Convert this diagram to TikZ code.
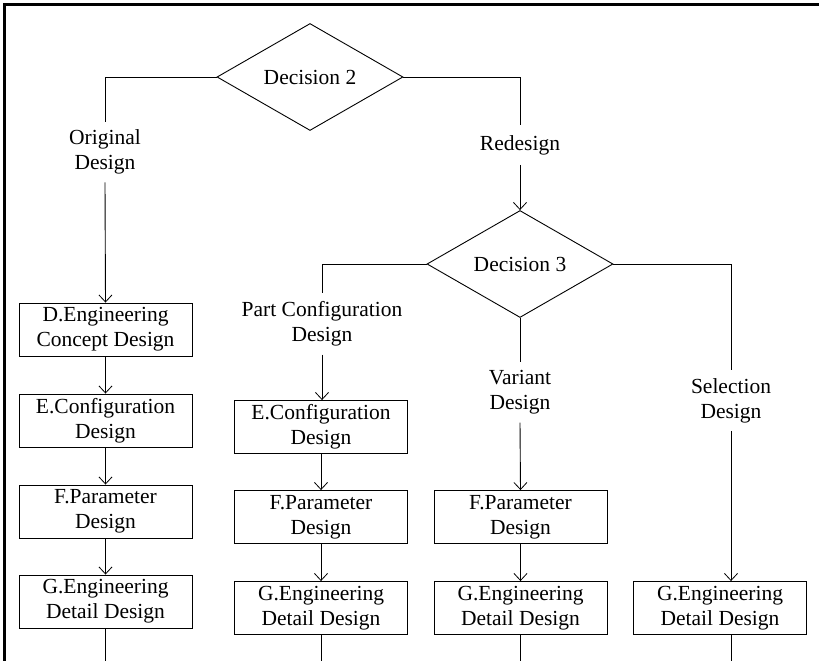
\documentclass[tikz,border=0pt]{standalone}
\usepackage{fontspec}
\setmainfont{Liberation Serif}
\usetikzlibrary{shapes.geometric,arrows.meta}
\begin{document}
\begin{tikzpicture}[x=1pt,y=-1pt,
  txt/.style={font=\fontsize{21.5}{25}\selectfont, align=center},
  stepbox/.style={txt, draw, line width=0.9pt, minimum width=173pt, minimum height=53pt, inner sep=2pt},
  decide/.style={txt, draw, shape=diamond, line width=0.9pt, minimum width=186pt, minimum height=91pt, inner sep=0pt},
  lbl/.style={txt, inner xsep=2pt, inner ysep=8pt},
  link/.style={line width=0.9pt},
  arr/.style={link, -{Straight Barb[length=7pt,width=13pt,line width=0.8pt]}}
]
\useasboundingbox (0,0) rectangle (819,661);
% outer frame (top and left edges)
\draw[line width=3pt] (4.5,661) -- (4.5,4.5) -- (819,4.5);

% decisions
\node[decide] (d2) at (310,77) {Decision 2};
\node[decide] (d3) at (520,264) {Decision 3};

% branch labels
\node[lbl] (lorig) at (105,152) {Original\\Design};
\node[lbl, inner ysep=10pt] (lred) at (520,145) {Redesign};
\node[lbl] (lpart) at (322,324) {Part Configuration\\Design};
\node[lbl] (lvar) at (520,392.5) {Variant\\Design};
\node[lbl] (lsel) at (731,400.5) {Selection\\Design};

% original design column
\node[stepbox] (d1) at (105.5,329.5) {D.Engineering\\Concept Design};
\node[stepbox] (e1) at (105.5,420.5) {E.Configuration\\Design};
\node[stepbox] (f1) at (105.5,511.5) {F.Parameter\\Design};
\node[stepbox] (g1) at (105.5,601.5) {G.Engineering\\Detail Design};

% part configuration column
\node[stepbox] (e2) at (321,427) {E.Configuration\\Design};
\node[stepbox] (f2) at (321,517) {F.Parameter\\Design};
\node[stepbox] (g2) at (321,608) {G.Engineering\\Detail Design};

% variant column
\node[stepbox] (f3) at (520.5,517) {F.Parameter\\Design};
\node[stepbox] (g3) at (520.5,608) {G.Engineering\\Detail Design};

% selection column
\node[stepbox] (g4) at (720,608) {G.Engineering\\Detail Design};

% open ends leaving the bottom edge
\coordinate (o1) at (105.5,661);
\coordinate (o2) at (321,661);
\coordinate (o3) at (520.5,661);
\coordinate (o4) at (731,661);

% decision 2 branches
\draw[link] (d2.west) -| (lorig.north);
\draw[arr] (lorig.south) -- (d1.north);
\draw[link] (d2.east) -| (lred.north);
\draw[arr] (lred.south) -- (d3.north);

% decision 3 branches
\draw[link] (d3.west) -| (lpart.north);
\draw[arr] (lpart.south) -- (lpart.south |- e2.north);
\draw[link] (d3.south) -- (lvar.north);
\draw[arr] (lvar.south) -- (f3.north);
\draw[link] (d3.east) -| (lsel.north);
\draw[arr] (lsel.south) -- (lsel.south |- g4.north);

% chains inside the columns
\draw[arr] (d1) -- (e1);
\draw[arr] (e1) -- (f1);
\draw[arr] (f1) -- (g1);
\draw[arr] (e2) -- (f2);
\draw[arr] (f2) -- (g2);
\draw[arr] (f3) -- (g3);

% continuing lines
\draw[link] (g1.south) -- (o1);
\draw[link] (g2.south) -- (o2);
\draw[link] (g3.south) -- (o3);
\draw[link] (o4 |- g4.south) -- (o4);
\end{tikzpicture}
\end{document}
